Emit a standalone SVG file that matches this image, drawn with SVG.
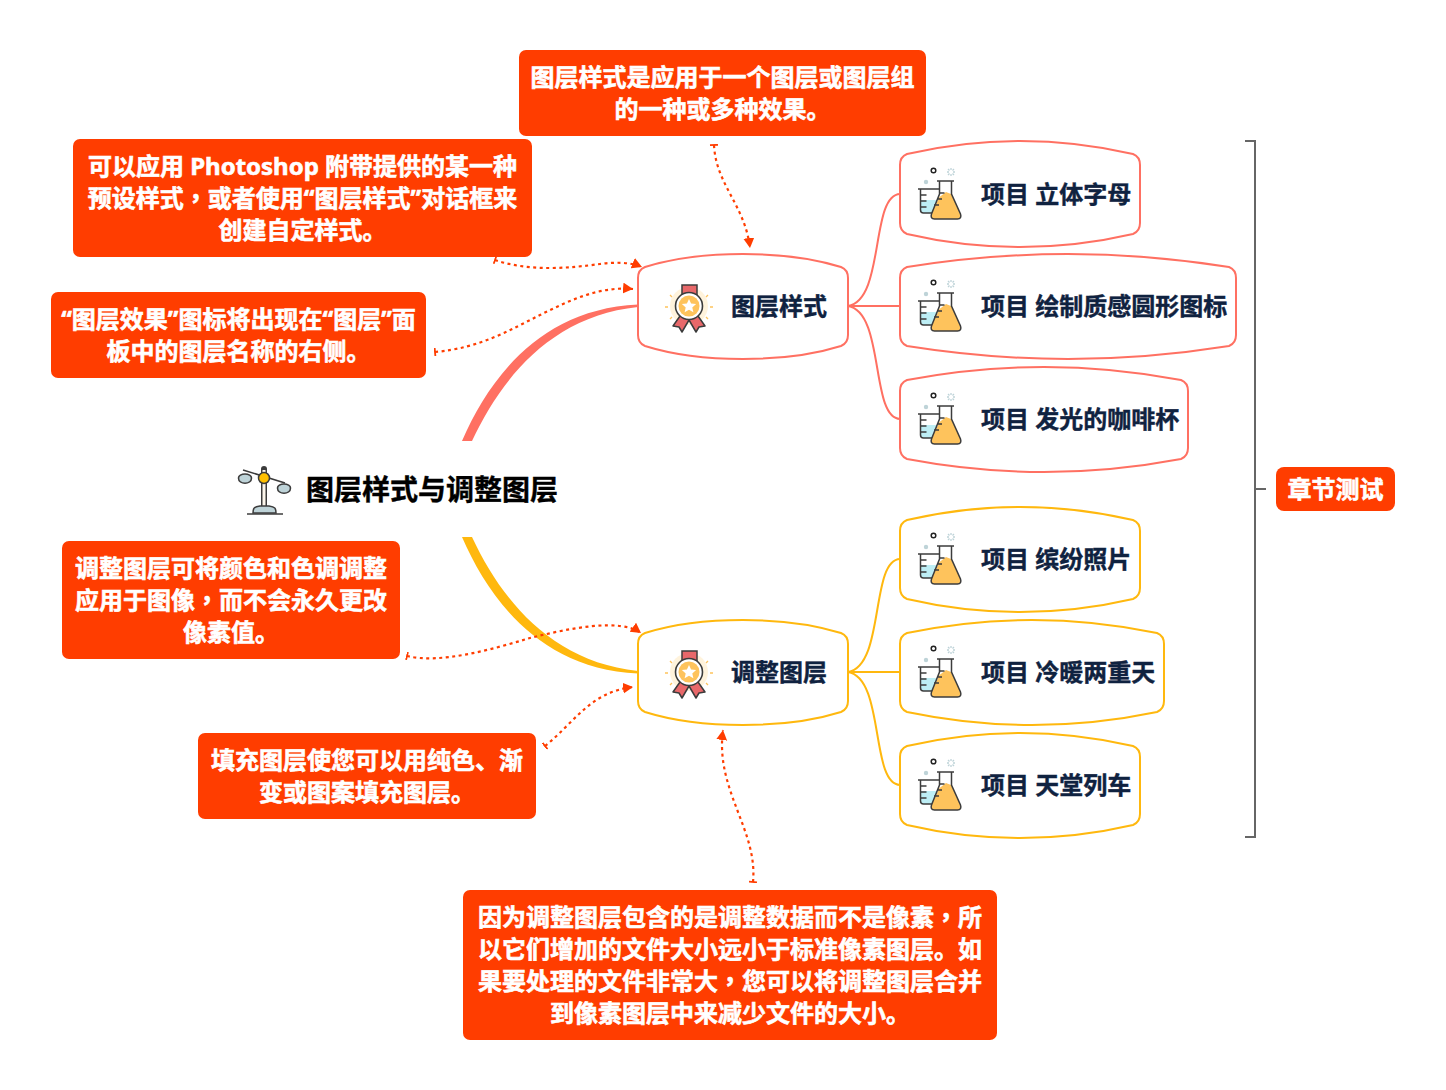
<svg xmlns="http://www.w3.org/2000/svg" width="1446" height="1090" viewBox="0 0 1446 1090">
<style>
text{font-family:"Noto Sans","Noto Sans CJK SC",sans-serif;font-weight:700}
.tc{font-family:"Noto Sans CJK TC",sans-serif}
.c{fill:#ff3d00;}
.w{fill:#fff;font-size:24px;text-anchor:middle;stroke:#fff;stroke-width:.6px}
.n{fill:#0f2240;font-size:24px;stroke:#0f2240;stroke-width:.4px}
.r{fill:#fff;stroke:#ff7062;stroke-width:2}
.y{fill:#fff;stroke:#ffb80e;stroke-width:2}
.lr{fill:none;stroke:#ff7062;stroke-width:2}
.ly{fill:none;stroke:#ffb80e;stroke-width:2}
.d{fill:none;stroke:#ff3d00;stroke-width:2.2;stroke-dasharray:3 3.500;marker-start:url(#tick);marker-end:url(#tri)}
.k{stroke:#3c3c3c;stroke-width:1.500;fill:none}
</style>
<defs>
<marker id="tri" markerUnits="userSpaceOnUse" markerWidth="13" markerHeight="12" refX="10" refY="5.500" orient="auto"><path d="M0 0L10 5.500L0 11Z" fill="#ff3d00"/></marker>
<marker id="tick" markerUnits="userSpaceOnUse" markerWidth="4" markerHeight="10" refX="1" refY="4" orient="auto"><path d="M1 0V8" stroke="#ff3d00" stroke-width="1.800" fill="none"/></marker>
<symbol id="medal" overflow="visible">
<circle cx="24" cy="23" r="19" fill="#fff3dc"/>
<g stroke="#fec35c" stroke-width="1.300"><path d="M0 24h3M45 24h3M5 12l2 2M43 12l-2 2M5 36l2-2M43 36l-2-2"/></g>
<path d="M17 2h15v12h-15z" fill="#e8686a" stroke="#3c3c3c" stroke-width="1.500"/>
<path d="M15 33L8 43l6 1 3 5 7-12 7 12 3-5 6-1-7-10z" fill="#e8686a" stroke="#3c3c3c" stroke-width="1.500" stroke-linejoin="round"/>
<circle cx="24" cy="23" r="13.500" fill="#fff" stroke="#3c3c3c" stroke-width="1.600"/>
<circle cx="24" cy="23" r="10.500" fill="#fec35c"/>
<path d="M24 16l2.100 4.600 5 .5-3.800 3.300 1.100 4.900-4.400-2.600-4.400 2.600 1.100-4.900-3.800-3.300 5-.5z" fill="#fff"/>
</symbol>
<symbol id="flask" overflow="visible">
<circle cx="16.500" cy="4.500" r="2.300" fill="#fff" stroke="#222" stroke-width="1.500"/>
<g stroke="#bed3d8" stroke-width="1.300"><path d="M34 2v2M34 8v2M30 6h2M36 6h2M31 3l1.500 1.500M37 3l-1.500 1.500M31 9l1.500-1.500M37 9l-1.500-1.500"/></g>
<circle cx="9" cy="16" r="2.200" fill="#bed3d8"/>
<path d="M3.500 34v10c0 2 1 3 3 3h13l8-13z" fill="#bdeef5"/>
<path class="k" d="M1 23h22M3.500 23v21c0 2 1 3 3 3h12M3.500 29h6M3.500 35h6M3.500 41h6"/>
<path d="M22 15v13L14.500 48c-1 3 0 5 3 5h24c3 0 4-2 3-5L34 28V15z" fill="#fff"/>
<path d="M29 26L34 28L43.500 48c1 3 0 5-3 5h-23c-3 0-4-2-3-5l8-17z" fill="#fec35c"/>
<path class="k" d="M20 15h17M22.500 15v13L14.500 48c-1 3 0 5 3 5h23c3 0 4-2 3-5L34.500 28V15M22.500 27h5M20 33h5M17 39h5"/>
</symbol>
</defs>
<rect width="1446" height="1090" fill="#fff"/>
<g id="connectors">
<path d="M462 441C489 379 540 309 638 304.500V307C552 316 502 377 472 441Z" fill="#ff7062"/>
<path d="M462 537C489 599 540 669 638 673.500V671C552 662 502 601 472 537Z" fill="#ffb80e"/>
<path class="lr" d="M848 306C885 300 870 195 900 194M848 306H900M848 306C885 312 870 418 900 419"/>
<path class="ly" d="M848 672C885 666 870 560 900 559M848 672H900M848 672C885 678 870 784 900 785"/>
<path fill="none" stroke="#666" stroke-width="2" d="M1245 141H1255V837H1245M1255 489H1266"/>
</g>
<g id="relations">
<path class="d" d="M714 145C716 185 745 205 750 248"/>
<path class="d" d="M495 260C530 272 570 268 600 264C615 262 630 262 642 267"/>
<path class="d" d="M435 352C480 348 510 330 540 315C570 300 600 286 633 289"/>
<path class="d" d="M407 656C440 664 490 650 530 638C570 628 620 618 641 633"/>
<path class="d" d="M545 746C575 722 590 692 633 687"/>
<path class="d" d="M753 882C758 830 715 790 723 730"/>
</g>
<g id="root">
<path d="M264 469v37" stroke="#3c3c3c" stroke-width="6" stroke-linecap="round"/>
<path d="M264 470v36" stroke="#fdf6ec" stroke-width="3"/>
<path d="M243 470L285 483" stroke="#3c3c3c" stroke-width="1.600"/>
<path d="M238.500 478a6.500 4 0 0 1 13 0c0 7-13 7-13 0zM277.500 488a6.500 4 0 0 1 13 0c0 7-13 7-13 0z" fill="#bed3d8" stroke="#3c3c3c" stroke-width="1.600"/>
<path d="M253 513c0-5 1-6 7-7h9c6 1 7 2 7 7z" fill="#bed3d8" stroke="#3c3c3c" stroke-width="1.500"/>
<path d="M247 514H283" stroke="#3c3c3c" stroke-width="1.600"/>
<circle cx="264" cy="478" r="5.500" fill="#ffc000" stroke="#3c3c3c" stroke-width="1.500"/>
<text x="306" y="500" font-size="28" fill="#000" stroke="#000" stroke-width=".4">图层样式与调整图层</text>
</g>
<g id="topic-1">
<path class="r" d="M638 278C638 272 640 269 645 267C680 256 715 254 743 254C771 254 806 256 841 267C846 269 848 272 848 278V335C848 341 846 344 841 346C806 357 771 359 743 359C715 359 680 357 645 346C640 344 638 341 638 335Z"/>
<use href="#medal" x="665" y="283"/>
<text class="n" x="731" y="315">图层样式</text>
</g>
<g id="topic-2">
<path class="y" d="M638 644C638 638 640 635 645 633C680 622 715 620 743 620C771 620 806 622 841 633C846 635 848 638 848 644V701C848 707 846 710 841 712C806 723 771 725 743 725C715 725 680 723 645 712C640 710 638 707 638 701Z"/>
<use href="#medal" x="665" y="649"/>
<text class="n" x="731" y="681">调整图层</text>
</g>
<g id="sub-1">
<path class="r" d="M900 165C900 159 902 156 907 154C950 144 990 141 1020 141C1050 141 1090 144 1133 154C1138 156 1140 159 1140 165V223C1140 229 1138 232 1133 234C1090 244 1050 247 1020 247C990 247 950 244 907 234C902 232 900 229 900 223Z"/>
<use href="#flask" x="917" y="166"/>
<text class="n" x="981" y="203">项目 立体字母</text>
</g>
<g id="sub-2">
<path class="r" d="M900 278C900 272 902 269 907 267C970 257 1030 254 1068 254C1106 254 1166 257 1229 267C1234 269 1236 272 1236 278V335C1236 341 1234 344 1229 346C1166 356 1106 359 1068 359C1030 359 970 356 907 346C902 344 900 341 900 335Z"/>
<use href="#flask" x="917" y="278"/>
<text class="n" x="981" y="315">项目 绘制质感圆形图标</text>
</g>
<g id="sub-3">
<path class="r" d="M900 391C900 385 902 382 907 380C960 370 1010 367 1044 367C1078 367 1128 370 1181 380C1186 382 1188 385 1188 391V448C1188 454 1186 457 1181 459C1128 469 1078 472 1044 472C1010 472 960 469 907 459C902 457 900 454 900 448Z"/>
<use href="#flask" x="917" y="391"/>
<text class="n" x="981" y="428">项目 发光的咖啡杯</text>
</g>
<g id="sub-4">
<path class="y" d="M900 531C900 525 902 522 907 520C950 510 990 507 1020 507C1050 507 1090 510 1133 520C1138 522 1140 525 1140 531V588C1140 594 1138 597 1133 599C1090 609 1050 612 1020 612C990 612 950 609 907 599C902 597 900 594 900 588Z"/>
<use href="#flask" x="917" y="531"/>
<text class="n" x="981" y="568">项目 缤纷照片</text>
</g>
<g id="sub-5">
<path class="y" d="M900 644C900 638 902 635 907 633C955 623 1000 620 1032 620C1064 620 1109 623 1157 633C1162 635 1164 638 1164 644V701C1164 707 1162 710 1157 712C1109 722 1064 725 1032 725C1000 725 955 722 907 712C902 710 900 707 900 701Z"/>
<use href="#flask" x="917" y="644"/>
<text class="n" x="981" y="681">项目 冷暖两重天</text>
</g>
<g id="sub-6">
<path class="y" d="M900 757C900 751 902 748 907 746C950 736 990 733 1020 733C1050 733 1090 736 1133 746C1138 748 1140 751 1140 757V814C1140 820 1138 823 1133 825C1090 835 1050 838 1020 838C990 838 950 835 907 825C902 823 900 820 900 814Z"/>
<use href="#flask" x="917" y="757"/>
<text class="n" x="981" y="794">项目 天堂列车</text>
</g>
<g id="summary">
<rect class="c" x="1276" y="467" width="119" height="44" rx="8"/>
<text class="w" x="1335.500" y="498">章节测试</text>
</g>
<g id="note-a">
<rect class="c" x="519" y="50" width="407" height="86" rx="7"/>
<text class="w" x="722.500" y="86">图层样式是应用于一个图层或图层组</text>
<text class="w" x="722.500" y="118">的一种或多种效果。</text>
</g>
<g id="note-b">
<rect class="c" x="73" y="139" width="459" height="118" rx="7"/>
<text class="w" x="302.500" y="175">可以应用 Photoshop 附带提供的某一种</text>
<text class="w" x="302.500" y="207">预设样式<tspan class="tc">，</tspan>或者使用“图层样式”对话框来</text>
<text class="w" x="302.500" y="239">创建自定样式。</text>
</g>
<g id="note-c">
<rect class="c" x="51" y="292" width="375" height="86" rx="7"/>
<text class="w" x="238.500" y="328">“图层效果”图标将出现在“图层”面</text>
<text class="w" x="238.500" y="360">板中的图层名称的右侧。</text>
</g>
<g id="note-d">
<rect class="c" x="62" y="541" width="338" height="118" rx="7"/>
<text class="w" x="231" y="577">调整图层可将颜色和色调调整</text>
<text class="w" x="231" y="609">应用于图像<tspan class="tc">，</tspan>而不会永久更改</text>
<text class="w" x="231" y="641">像素值。</text>
</g>
<g id="note-e">
<rect class="c" x="198" y="733" width="338" height="86" rx="7"/>
<text class="w" x="367" y="769">填充图层使您可以用纯色、渐</text>
<text class="w" x="367" y="801">变或图案填充图层。</text>
</g>
<g id="note-f">
<rect class="c" x="463" y="890" width="534" height="150" rx="7"/>
<text class="w" x="730" y="926">因为调整图层包含的是调整数据而不是像素<tspan class="tc">，</tspan>所</text>
<text class="w" x="730" y="958">以它们增加的文件大小远小于标准像素图层。如</text>
<text class="w" x="730" y="990">果要处理的文件非常大<tspan class="tc">，</tspan>您可以将调整图层合并</text>
<text class="w" x="730" y="1022">到像素图层中来减少文件的大小。</text>
</g>
</svg>
